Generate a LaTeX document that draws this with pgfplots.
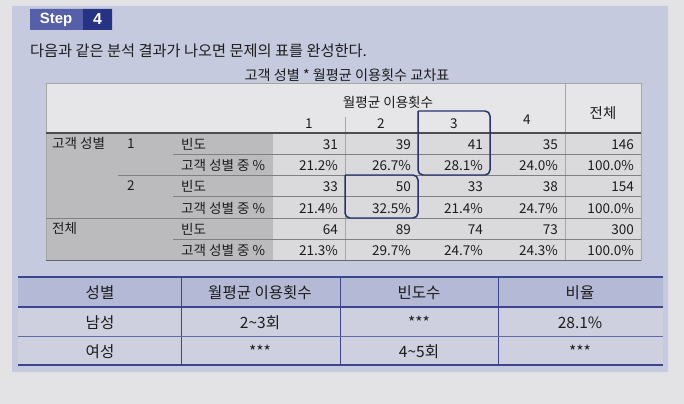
\documentclass[border=0pt]{standalone}
\usepackage{fontspec}
\setmainfont{Noto Sans CJK KR}
\newfontfamily\latinfont{Liberation Sans}
\usepackage{pgfplots}
\pgfplotsset{compat=1.18}
\definecolor{page}{HTML}{E3E3E6}
\definecolor{panel}{HTML}{C6CADF}
\definecolor{stepc}{HTML}{5560A8}
\definecolor{stepd}{HTML}{263382}
\definecolor{hdr}{HTML}{E6E6E8}
\definecolor{lab}{HTML}{BBBBBD}
\definecolor{cell}{HTML}{DADADC}
\definecolor{boxc}{HTML}{28336E}
\definecolor{bth}{HTML}{B4B9D6}
\definecolor{btb}{HTML}{CED0DF}
\definecolor{btl}{HTML}{3D4590}
\definecolor{txt}{HTML}{1C1C1C}
\newcommand{\rect}[5]{\addplot[#1] coordinates {(#2,#3)(#4,#3)(#4,#5)(#2,#5)(#2,#3)};}
\newcommand{\hl}[4]{\addplot[#1] coordinates {(#2,#4)(#3,#4)};}
\newcommand{\vl}[4]{\addplot[#1] coordinates {(#2,#3)(#2,#4)};}
\newcommand{\cs}{\fontsize{13.6}{15}\selectfont}
\newcommand{\bs}{\fontsize{15.6}{17}\selectfont}
\begin{document}
\begin{tikzpicture}[every node/.style={inner sep=0pt}]
\begin{axis}[width=684bp,height=404bp,scale only axis,
  xmin=0,xmax=684,ymin=0,ymax=404,y dir=reverse,hide axis,clip=false]
% page and panel
\rect{fill=page,draw=none}{0}{0}{684}{404}
\rect{fill=panel,draw=none}{12}{6}{668}{372}
% step tab
\rect{fill=stepc,draw=none}{30}{9}{83}{30}
\rect{fill=stepd,draw=none}{83}{9}{112}{30}
\node[text=white,font=\latinfont\bfseries\fontsize{15}{16}\selectfont] at (axis cs:56,19.5) {Step};
\node[text=white,font=\latinfont\bfseries\fontsize{16}{17}\selectfont] at (axis cs:97.5,19.5) {4};
% instruction
\node[anchor=base west,text=txt,font=\fontsize{15.3}{17}\selectfont] at (axis cs:30,56) {다음과 같은 분석 결과가 나오면 문제의 표를 완성한다.};
\node[anchor=base,text=txt,font=\fontsize{14.2}{16}\selectfont] at (axis cs:347,80) {고객 성별 * 월평균 이용횟수 교차표};
% crosstab fills
\rect{fill=hdr,draw=none}{46}{83}{641}{133}
\rect{fill=lab,draw=none}{46}{133}{273}{260}
\rect{fill=cell,draw=none}{273}{133}{641}{260}
% crosstab lines
\rect{draw=black!35,line width=0.8pt}{46}{83}{641}{260}
\vl{draw=black!35,line width=0.8pt}{345}{117}{260}
\vl{draw=black!35,line width=0.8pt}{565}{83}{260}
\hl{draw=black!70,line width=1.3pt}{46}{641}{133}
\hl{draw=black!50,line width=0.8pt}{173}{641}{154}
\hl{draw=black!50,line width=0.8pt}{118}{641}{175}
\hl{draw=black!50,line width=0.8pt}{173}{641}{196}
\hl{draw=black!50,line width=0.8pt}{46}{641}{218}
\hl{draw=black!50,line width=0.8pt}{173}{641}{239}
\hl{draw=black!60,line width=1pt}{46}{641}{260}
% crosstab header text
\node[anchor=base,text=txt,font=\cs] at (axis cs:388,107) {월평균 이용횟수};
\node[anchor=base,text=txt,font=\cs] at (axis cs:309,128) {1};
\node[anchor=base,text=txt,font=\cs] at (axis cs:381,128) {2};
\node[anchor=base,text=txt,font=\cs] at (axis cs:454,128) {3};
\node[anchor=base,text=txt,font=\cs] at (axis cs:527,124) {4};
\node[anchor=base,text=txt,font=\fontsize{14.5}{16}\selectfont] at (axis cs:603,118) {전체};
% row labels
\node[anchor=base west,text=txt,font=\cs] at (axis cs:52,148) {고객 성별};
\node[anchor=base west,text=txt,font=\cs] at (axis cs:127,148) {1};
\node[anchor=base west,text=txt,font=\cs] at (axis cs:127,190) {2};
\node[anchor=base west,text=txt,font=\cs] at (axis cs:52,233) {전체};
\node[anchor=base west,text=txt,font=\cs] at (axis cs:181,149) {빈도};
\node[anchor=base west,text=txt,font=\cs] at (axis cs:181,170) {고객 성별 중 \%};
\node[anchor=base west,text=txt,font=\cs] at (axis cs:181,191) {빈도};
\node[anchor=base west,text=txt,font=\cs] at (axis cs:181,213) {고객 성별 중 \%};
\node[anchor=base west,text=txt,font=\cs] at (axis cs:181,234) {빈도};
\node[anchor=base west,text=txt,font=\cs] at (axis cs:181,255) {고객 성별 중 \%};
% values row 1
\node[anchor=base east,text=txt,font=\cs] at (axis cs:338,149) {31};
\node[anchor=base east,text=txt,font=\cs] at (axis cs:411,149) {39};
\node[anchor=base east,text=txt,font=\cs] at (axis cs:483,149) {41};
\node[anchor=base east,text=txt,font=\cs] at (axis cs:558,149) {35};
\node[anchor=base east,text=txt,font=\cs] at (axis cs:634,149) {146};
% row 2
\node[anchor=base east,text=txt,font=\cs] at (axis cs:338,170) {21.2\%};
\node[anchor=base east,text=txt,font=\cs] at (axis cs:411,170) {26.7\%};
\node[anchor=base east,text=txt,font=\cs] at (axis cs:483,170) {28.1\%};
\node[anchor=base east,text=txt,font=\cs] at (axis cs:558,170) {24.0\%};
\node[anchor=base east,text=txt,font=\cs] at (axis cs:634,170) {100.0\%};
% row 3
\node[anchor=base east,text=txt,font=\cs] at (axis cs:338,191) {33};
\node[anchor=base east,text=txt,font=\cs] at (axis cs:411,191) {50};
\node[anchor=base east,text=txt,font=\cs] at (axis cs:483,191) {33};
\node[anchor=base east,text=txt,font=\cs] at (axis cs:558,191) {38};
\node[anchor=base east,text=txt,font=\cs] at (axis cs:634,191) {154};
% row 4
\node[anchor=base east,text=txt,font=\cs] at (axis cs:338,213) {21.4\%};
\node[anchor=base east,text=txt,font=\cs] at (axis cs:411,213) {32.5\%};
\node[anchor=base east,text=txt,font=\cs] at (axis cs:483,213) {21.4\%};
\node[anchor=base east,text=txt,font=\cs] at (axis cs:558,213) {24.7\%};
\node[anchor=base east,text=txt,font=\cs] at (axis cs:634,213) {100.0\%};
% row 5
\node[anchor=base east,text=txt,font=\cs] at (axis cs:338,234) {64};
\node[anchor=base east,text=txt,font=\cs] at (axis cs:411,234) {89};
\node[anchor=base east,text=txt,font=\cs] at (axis cs:483,234) {74};
\node[anchor=base east,text=txt,font=\cs] at (axis cs:558,234) {73};
\node[anchor=base east,text=txt,font=\cs] at (axis cs:634,234) {300};
% row 6
\node[anchor=base east,text=txt,font=\cs] at (axis cs:338,255) {21.3\%};
\node[anchor=base east,text=txt,font=\cs] at (axis cs:411,255) {29.7\%};
\node[anchor=base east,text=txt,font=\cs] at (axis cs:483,255) {24.7\%};
\node[anchor=base east,text=txt,font=\cs] at (axis cs:558,255) {24.3\%};
\node[anchor=base east,text=txt,font=\cs] at (axis cs:634,255) {100.0\%};
% highlight boxes
\addplot[draw=boxc,line width=1.5pt,rounded corners=5pt] coordinates {(418,111)(490,111)(490,175)(418,175)(418,111)};
\addplot[draw=boxc,line width=1.5pt,rounded corners=5pt] coordinates {(345,175)(418,175)(418,218)(345,218)(345,175)};
% bottom table
\rect{fill=bth,draw=none}{18}{277}{663}{307}
\rect{fill=btb,draw=none}{18}{307}{663}{365}
\vl{draw=btl,line width=0.9pt}{181}{277}{365}
\vl{draw=btl,line width=0.9pt}{340}{277}{365}
\vl{draw=btl,line width=0.9pt}{498}{277}{365}
\hl{draw=btl,line width=2pt}{18}{663}{277}
\hl{draw=btl,line width=1.2pt}{18}{663}{307}
\hl{draw=btl!80,line width=0.9pt}{18}{663}{336}
\hl{draw=btl,line width=2pt}{18}{663}{365}
\node[anchor=base,text=txt,font=\bs] at (axis cs:100,298) {성별};
\node[anchor=base,text=txt,font=\bs] at (axis cs:260,298) {월평균 이용횟수};
\node[anchor=base,text=txt,font=\bs] at (axis cs:419,298) {빈도수};
\node[anchor=base,text=txt,font=\bs] at (axis cs:580,298) {비율};
\node[anchor=base,text=txt,font=\bs] at (axis cs:100,328) {남성};
\node[anchor=base,text=txt,font=\bs] at (axis cs:260,328) {2\textasciitilde3회};
\node[anchor=base,text=txt,font=\bs] at (axis cs:419,328) {***};
\node[anchor=base,text=txt,font=\bs] at (axis cs:580,328) {28.1\%};
\node[anchor=base,text=txt,font=\bs] at (axis cs:100,357) {여성};
\node[anchor=base,text=txt,font=\bs] at (axis cs:260,357) {***};
\node[anchor=base,text=txt,font=\bs] at (axis cs:419,357) {4\textasciitilde5회};
\node[anchor=base,text=txt,font=\bs] at (axis cs:580,357) {***};
\end{axis}
\end{tikzpicture}
\end{document}
